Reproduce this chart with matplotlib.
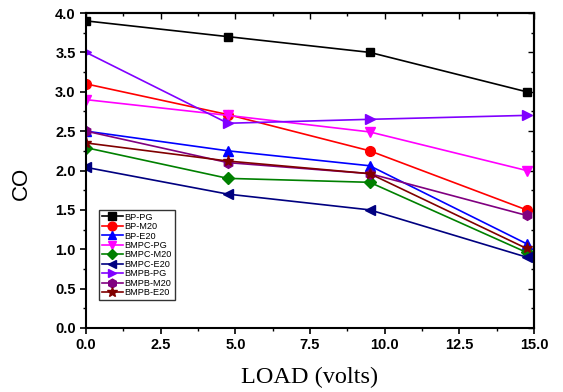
import matplotlib
matplotlib.use("Agg")
import matplotlib.pyplot as plt
from matplotlib.ticker import MultipleLocator, FormatStrFormatter

load = [0, 4.75, 9.5, 14.75]
labels = ["BP-PG", "BP-M20", "BP-E20", "BMPC-PG", "BMPC-M20", "BMPC-E20",
          "BMPB-PG", "BMPB-M20", "BMPB-E20"]
bp_pg = [3.9, 3.7, 3.5, 3.0]
bp_m20 = [3.1, 2.71, 2.25, 1.5]
bp_e20 = [2.5, 2.25, 2.06, 1.07]
bmpc_pg = [2.9, 2.7, 2.49, 2.0]
bmpc_m20 = [2.29, 1.9, 1.85, 0.96]
bmpc_e20 = [2.04, 1.7, 1.5, 0.9]
bmpb_pg = [3.5, 2.6, 2.65, 2.7]
bmpb_m20 = [2.5, 2.1, 1.96, 1.43]
bmpb_e20 = [2.35, 2.12, 1.96, 1.01]

series = [bp_pg, bp_m20, bp_e20, bmpc_pg, bmpc_m20, bmpc_e20, bmpb_pg, bmpb_m20, bmpb_e20]
colors = ["#000000", "#FF0000", "#0000FF", "#FF00FF", "#008000", "#000080",
          "#8000FF", "#800080", "#800000"]
markers = ["s", "o", "^", "v", "D", "<", ">", "h", "*"]
msizes = [6, 7, 7, 7, 6, 7, 7, 7, 8]

fig = plt.figure(figsize=(5.63, 3.92), dpi=100)
ax = fig.add_axes([0.1528, 0.1633, 0.7957, 0.8035])

for y, lab, c, m, ms in zip(series, labels, colors, markers, msizes):
    ax.plot(load, y, color=c, marker=m, markersize=ms, linewidth=1.2,
            label=lab, markeredgecolor=c, markerfacecolor=c)

ax.set_xlim(0, 15)
ax.set_ylim(0, 4.0)
ax.xaxis.set_major_locator(MultipleLocator(2.5))
ax.xaxis.set_minor_locator(MultipleLocator(1.25))
ax.yaxis.set_major_locator(MultipleLocator(0.5))
ax.yaxis.set_minor_locator(MultipleLocator(0.25))
ax.xaxis.set_major_formatter(FormatStrFormatter("%.1f"))
ax.yaxis.set_major_formatter(FormatStrFormatter("%.1f"))

for s in ax.spines.values():
    s.set_linewidth(1.5)

ax.tick_params(which="major", direction="out", length=4.5, width=1.2, pad=3)
ax.tick_params(which="minor", direction="out", length=2.5, width=1.0)
for t in ax.get_xticklabels() + ax.get_yticklabels():
    t.set_fontfamily("Liberation Sans")
    t.set_fontweight("bold")
    t.set_fontsize(10.5)

secx = ax.secondary_xaxis("top")
secx.xaxis.set_major_locator(MultipleLocator(2.5))
secx.xaxis.set_minor_locator(MultipleLocator(1.25))
secx.tick_params(which="major", direction="in", length=4, width=1.0, labeltop=False)
secx.tick_params(which="minor", direction="in", length=2.5, width=1.0)
secx.spines["top"].set_linewidth(1.5)
secy = ax.secondary_yaxis("right")
secy.yaxis.set_major_locator(MultipleLocator(0.5))
secy.yaxis.set_minor_locator(MultipleLocator(0.25))
secy.tick_params(which="major", direction="in", length=4, width=1.0, labelright=False)
secy.tick_params(which="minor", direction="in", length=2.5, width=1.0)
secy.spines["right"].set_linewidth(1.5)

ax.set_xlabel("LOAD (volts)", fontfamily="Liberation Serif", fontsize=17.5)
ax.xaxis.set_label_coords(0.5, -0.122)
ax.set_ylabel("CO", fontfamily="Liberation Sans", fontsize=16)
ax.yaxis.set_label_coords(-0.12, 0.46)

leg = ax.legend(loc="upper left", bbox_to_anchor=(0.029, 0.375),
                prop={"family": "Liberation Sans", "size": 6.6},
                frameon=True, fancybox=False, edgecolor="black",
                labelspacing=0.05, handlelength=2.3, handletextpad=0.2,
                borderpad=0.3, borderaxespad=0, markerscale=0.9)
leg.get_frame().set_linewidth(1.0)

fig.savefig("out.png", dpi=100)
